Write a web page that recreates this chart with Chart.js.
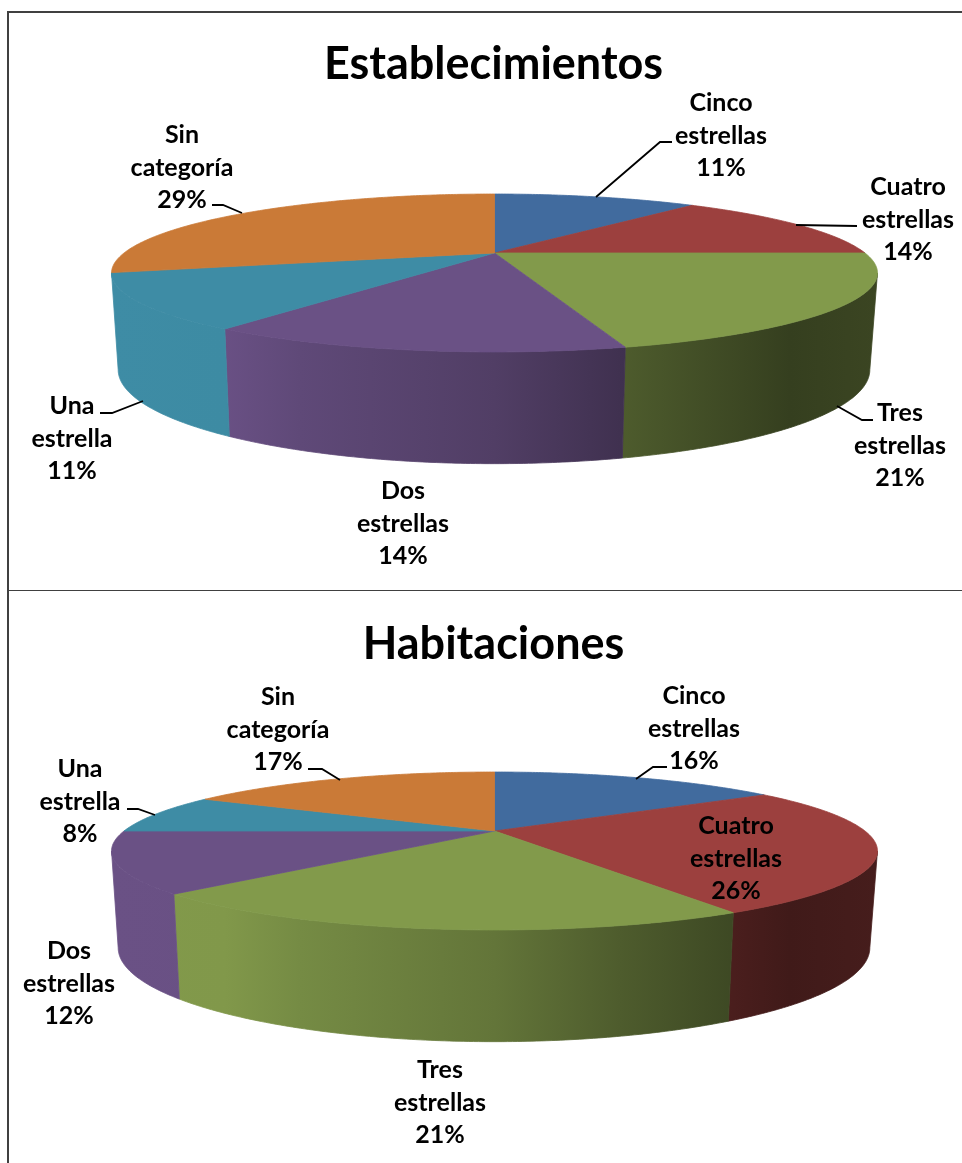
<!DOCTYPE html>
<html>
<head>
<meta charset="utf-8">
<title>Establecimientos y habitaciones</title>
<script src="https://cdn.jsdelivr.net/npm/chart.js@4"></script>
<style>
  html, body { margin: 0; padding: 0; background: #fff; overflow: hidden; }
  #page { position: relative; width: 962px; height: 1163px; }
  canvas { position: absolute; left: 0; }
  .rule { position: absolute; background: #404040; }
</style>
</head>
<body>
<div id="page">
  <canvas id="establecimientos" width="962" height="590" style="top:0"></canvas>
  <canvas id="habitaciones" width="962" height="573" style="top:590px"></canvas>
  <div class="rule" style="left:7px;top:11px;width:955px;height:1.5px"></div>
  <div class="rule" style="left:7px;top:11px;width:1.5px;height:1152px"></div>
  <div class="rule" style="left:8px;top:589.5px;width:954px;height:1.5px"></div>
</div>
<script>
const categories = ["Cinco estrellas", "Cuatro estrellas", "Tres estrellas", "Dos estrellas", "Una estrella", "Sin categoría"];
const estabValues = [11, 14, 20.7, 14.1, 11.2, 29];
const estabPercents = ["11%", "14%", "21%", "14%", "11%", "29%"];
const habitValues = [15.6, 26, 21, 12.4, 8, 17];
const habitPercents = ["16%", "26%", "21%", "12%", "8%", "17%"];
const sliceColors = ["#416b9e", "#9c403e", "#829a4b", "#6a5185", "#3e8ca5", "#ca7a37"];

// x, y of the centre of the first line of each label
const estabLabelPos = [[721, 103], [908, 187], [900, 413], [403, 491], [72, 406], [182, 135]];
const habitLabelPos = [[694, 106], [736, 236], [440, 480], [69, 361], [80, 179], [278, 107]];

const estabLeaders = [
  [[596, 197], [660, 142], [672, 142]],
  [[796, 225], [857, 226]],
  [[837, 406], [862, 420], [873, 420]],
  [[143, 401], [112, 413], [100, 413]],
  [[242, 213], [223, 205], [212, 205]],
];
const habitLeaders = [
  [[636, 189], [653, 177], [667, 177]],
  [[155, 225], [138, 219], [127, 219]],
  [[340, 190], [322, 179], [308, 179]],
];

// perspective of the tilted disc, top face and bottom face
const P = 0.253;
const TOP = { cx: 494.5, A: 370.5, B: 73.9 };
const BOTTOM = { cx: 494, A: 363.6, B: 87.9, dy: 93 };
const SILHOUETTE = Math.asin(P);

// how much the wall colour is darkened going left to right
const wallShade = [[110, 1], [225, 0.99], [300, 0.9], [495, 0.76], [620, 0.6], [790, 0.41], [877, 0.45]];

function project(f, angle, apexY) {
  const u = Math.cos(angle);
  const v = -Math.sin(angle);
  const w = 1 + P * v;
  return { x: f.cx + (f.A * u) / w, y: apexY + (f.dy || 0) - (f.B * v) / w };
}

function shade(hex, k) {
  const n = parseInt(hex.slice(1), 16);
  return `rgb(${Math.round((n >> 16) * k)},${Math.round(((n >> 8) & 255) * k)},${Math.round((n & 255) * k)})`;
}

function wallGradient(ctx, hex) {
  const g = ctx.createLinearGradient(110, 0, 877, 0);
  wallShade.forEach((s) => g.addColorStop((s[0] - 110) / 767, shade(hex, s[1])));
  return g;
}

// angles of a slice that face the viewer, split in small steps
function frontAngles(arc) {
  const from = Math.max(arc.startAngle, SILHOUETTE);
  const to = Math.min(arc.endAngle, Math.PI - SILHOUETTE);
  if (to <= from) return [];
  const n = Math.ceil((to - from) / 0.01);
  const out = [];
  for (let s = 0; s <= n; s++) out.push(from + ((to - from) * s) / n);
  return out;
}

const pie3d = {
  id: "pie3d",
  // the flat arcs are replaced by the tilted ones, angles come from the library
  beforeDatasetsDraw(chart, args, opts) {
    const ctx = chart.ctx;
    const arcs = chart.getDatasetMeta(0).data;
    ctx.save();
    ctx.lineWidth = 0.8;
    ctx.lineJoin = "round";
    arcs.forEach((arc, i) => {
      const angles = frontAngles(arc);
      if (!angles.length) return;
      ctx.beginPath();
      angles.forEach((a) => {
        const p = project(TOP, a, opts.apexY);
        ctx.lineTo(p.x, p.y);
      });
      angles.slice().reverse().forEach((a) => {
        const p = project(BOTTOM, a, opts.apexY);
        ctx.lineTo(p.x, p.y);
      });
      ctx.closePath();
      ctx.fillStyle = wallGradient(ctx, sliceColors[i]);
      ctx.strokeStyle = ctx.fillStyle;
      ctx.fill();
      ctx.stroke();
    });
    arcs.forEach((arc, i) => {
      ctx.beginPath();
      ctx.moveTo(TOP.cx, opts.apexY);
      const n = Math.ceil((arc.endAngle - arc.startAngle) / 0.01);
      for (let s = 0; s <= n; s++) {
        const p = project(TOP, arc.startAngle + ((arc.endAngle - arc.startAngle) * s) / n, opts.apexY);
        ctx.lineTo(p.x, p.y);
      }
      ctx.closePath();
      ctx.fillStyle = sliceColors[i];
      ctx.strokeStyle = sliceColors[i];
      ctx.fill();
      ctx.stroke();
    });
    ctx.restore();
    return false;
  },
  afterDraw(chart, args, opts) {
    const ctx = chart.ctx;
    ctx.save();
    ctx.strokeStyle = "#000";
    ctx.lineWidth = 1.8;
    opts.leaders.forEach((line) => {
      ctx.beginPath();
      line.forEach((p, i) => (i ? ctx.lineTo(p[0], p[1]) : ctx.moveTo(p[0], p[1])));
      ctx.stroke();
    });
    ctx.fillStyle = "#000";
    ctx.font = "bold 25px Lato";
    ctx.textAlign = "center";
    ctx.textBaseline = "middle";
    categories.forEach((name, i) => {
      const words = name.split(" ");
      const lines = [words[0], words[1], opts.percents[i]];
      const pos = opts.labelPos[i];
      lines.forEach((l, k) => ctx.fillText(l, pos[0], pos[1] + k * 32.5));
    });
    ctx.restore();
  },
};

function drawPie(id, titleText, titleTop, values, percents, labelPos, leaders, apexY) {
  return new Chart(document.getElementById(id), {
    type: "pie",
    data: {
      labels: categories,
      datasets: [{ data: values, backgroundColor: sliceColors, borderWidth: 0 }],
    },
    options: {
      responsive: false,
      animation: false,
      layout: { padding: { left: 25 } },
      plugins: {
        legend: { display: false },
        tooltip: { enabled: false },
        title: {
          display: true,
          text: titleText,
          color: "#000",
          font: { family: "Lato", weight: "bold", size: 45 },
          padding: { top: titleTop, bottom: 0 },
        },
        pie3d: { apexY, percents, labelPos, leaders },
      },
    },
    plugins: [pie3d],
  });
}

drawPie("establecimientos", "Establecimientos", 37, estabValues, estabPercents, estabLabelPos, estabLeaders, 253);
drawPie("habitaciones", "Habitaciones", 27, habitValues, habitPercents, habitLabelPos, habitLeaders, 241);
</script>
</body>
</html>
